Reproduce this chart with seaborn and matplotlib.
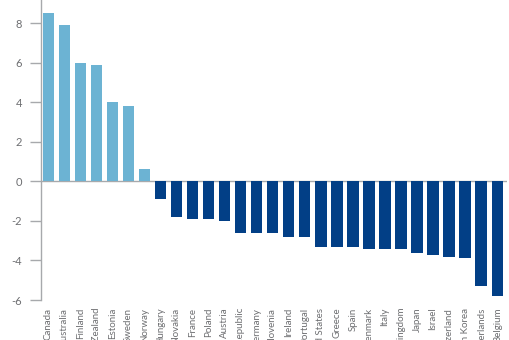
import matplotlib
matplotlib.use("Agg")
import matplotlib.pyplot as plt
import seaborn as sns
import pandas as pd

countries = ["Canada", "Australia", "Finland", "New Zealand", "Estonia", "Sweden",
             "Norway", "Hungary", "Slovakia", "France", "Poland", "Austria",
             "Czech Republic", "Germany", "Slovenia", "Ireland", "Portugal",
             "United States", "Greece", "Spain", "Denmark", "Italy",
             "United Kingdom", "Japan", "Israel", "Switzerland", "South Korea",
             "Netherlands", "Belgium"]
values = [8.5, 7.9, 6.0, 5.9, 4.0, 3.8, 0.6, -0.9, -1.8, -1.9, -1.9, -2.0,
          -2.6, -2.6, -2.6, -2.8, -2.8, -3.3, -3.3, -3.3, -3.4, -3.4, -3.4,
          -3.6, -3.7, -3.8, -3.9, -5.3, -5.8]
yticks = [-6, -4, -2, 0, 2, 4, 6, 8]

light_blue = "#6cb3d3"
dark_blue = "#023f86"
axis_grey = "#a7a9ac"
text_grey = "#6d6e71"

df = pd.DataFrame({"country": countries, "value": values})
df["sign"] = ["pos" if v >= 0 else "neg" for v in values]

sns.set_style("white")
plt.rcParams["axes.unicode_minus"] = False
plt.rcParams["font.family"] = ["Lato", "DejaVu Sans"]

fig = plt.figure(figsize=(5.1, 3.4), dpi=100)
ax = fig.add_axes([0.0798, 0.1176, 0.914, 0.8824])

sns.barplot(data=df, x="country", y="value", hue="sign",
            palette={"pos": light_blue, "neg": dark_blue},
            dodge=False, width=0.71, legend=False, ax=ax,
            linewidth=0, saturation=1)

ax.set_xlim(-0.47, 28.6)
ax.set_ylim(-6, 9.17)
ax.set_yticks(yticks)
ax.set_yticklabels([str(t) for t in yticks])
ax.axhline(0, color=axis_grey, lw=1.0, zorder=0)

for side in ["top", "right", "bottom"]:
    ax.spines[side].set_visible(False)
ax.spines["left"].set_color(axis_grey)
ax.spines["left"].set_linewidth(1.0)
ax.spines["left"].set_bounds(-6, 9.17)

ax.tick_params(axis="y", which="both", left=True, length=8, width=1.0,
               color=axis_grey, labelcolor=text_grey, labelsize=8, pad=5.5)
ax.tick_params(axis="x", which="both", bottom=False, labelcolor=text_grey,
               labelsize=7, pad=2)
for lbl in ax.get_xticklabels():
    lbl.set_rotation(90)
    lbl.set_ha("center")
    lbl.set_va("top")

ax.set_xlabel("")
ax.set_ylabel("")

fig.savefig("out.png", dpi=100)
